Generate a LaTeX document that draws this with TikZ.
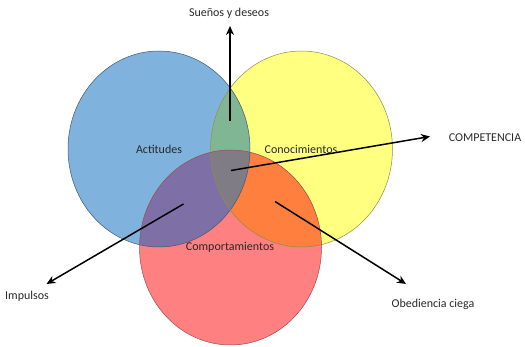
\documentclass[tikz,border=0pt]{standalone}
\usepackage{fontspec}
\setmainfont{Carlito}
\usetikzlibrary{arrows.meta}
\definecolor{cblue}{RGB}{127,179,222}
\definecolor{cyellow}{RGB}{255,255,128}
\definecolor{cred}{RGB}{255,128,128}
\definecolor{cby}{RGB}{128,182,148}
\definecolor{cbr}{RGB}{126,112,166}
\definecolor{cyr}{RGB}{255,128,62}
\definecolor{call}{RGB}{128,124,134}
\definecolor{txt}{RGB}{40,40,40}
\tikzset{
  lbl/.style={font=\fontsize{12}{14}\selectfont, text=txt, inner sep=0pt},
  arr/.style={-{Stealth[length=9pt,width=8pt]}, line width=1.5pt, black},
  rim/.style={line width=0.5pt}
}
\begin{document}
\begin{tikzpicture}[x=1pt,y=-1pt]
\useasboundingbox (0,0) rectangle (525,347);
% base fills
\fill[cblue] (159,149) ellipse [x radius=91, y radius=98];
\fill[cyellow] (301.5,149) ellipse [x radius=91, y radius=98];
\fill[cred] (230.5,247.5) ellipse [x radius=91, y radius=97.5];
% pairwise overlaps
\begin{scope}
  \clip (159,149) ellipse [x radius=91, y radius=98];
  \fill[cby] (301.5,149) ellipse [x radius=91, y radius=98];
  \fill[cbr] (230.5,247.5) ellipse [x radius=91, y radius=97.5];
\end{scope}
\begin{scope}
  \clip (301.5,149) ellipse [x radius=91, y radius=98];
  \fill[cyr] (230.5,247.5) ellipse [x radius=91, y radius=97.5];
\end{scope}
\begin{scope}
  \clip (159,149) ellipse [x radius=91, y radius=98];
  \clip (301.5,149) ellipse [x radius=91, y radius=98];
  \fill[call] (230.5,247.5) ellipse [x radius=91, y radius=97.5];
\end{scope}
% outlines
\draw[rim, draw=black!50!cblue] (159,149) ellipse [x radius=91, y radius=98];
\draw[rim, draw=black!45!cyellow] (301.5,149) ellipse [x radius=91, y radius=98];
\draw[rim, draw=black!40!cred] (230.5,247.5) ellipse [x radius=91, y radius=97.5];
% circle labels
\node[lbl] (act) at (159,149) {Actitudes};
\node[lbl] (con) at (301,149) {Conocimientos};
\node[lbl] (com) at (230,247) {Comportamientos};
% outer labels
\node[lbl] (sue) at (229,13) {Sueños y deseos};
\node[lbl] (cmp) at (485,138) {COMPETENCIA};
\node[lbl] (imp) at (27,296) {Impulsos};
\node[lbl] (obe) at (433,304) {Obediencia ciega};
% arrow endpoints
\coordinate (s1) at (230,121.5);
\coordinate (s2) at (230,26);
\coordinate (c1) at (231,170.5);
\coordinate (c2) at (430,136.5);
\coordinate (i1) at (183.5,204);
\coordinate (i2) at (46.5,284);
\coordinate (o1) at (275,201.5);
\coordinate (o2) at (406,284);
\draw[arr] (s1) -- (s2);
\draw[arr] (c1) -- (c2);
\draw[arr] (i1) -- (i2);
\draw[arr] (o1) -- (o2);
\end{tikzpicture}
\end{document}
